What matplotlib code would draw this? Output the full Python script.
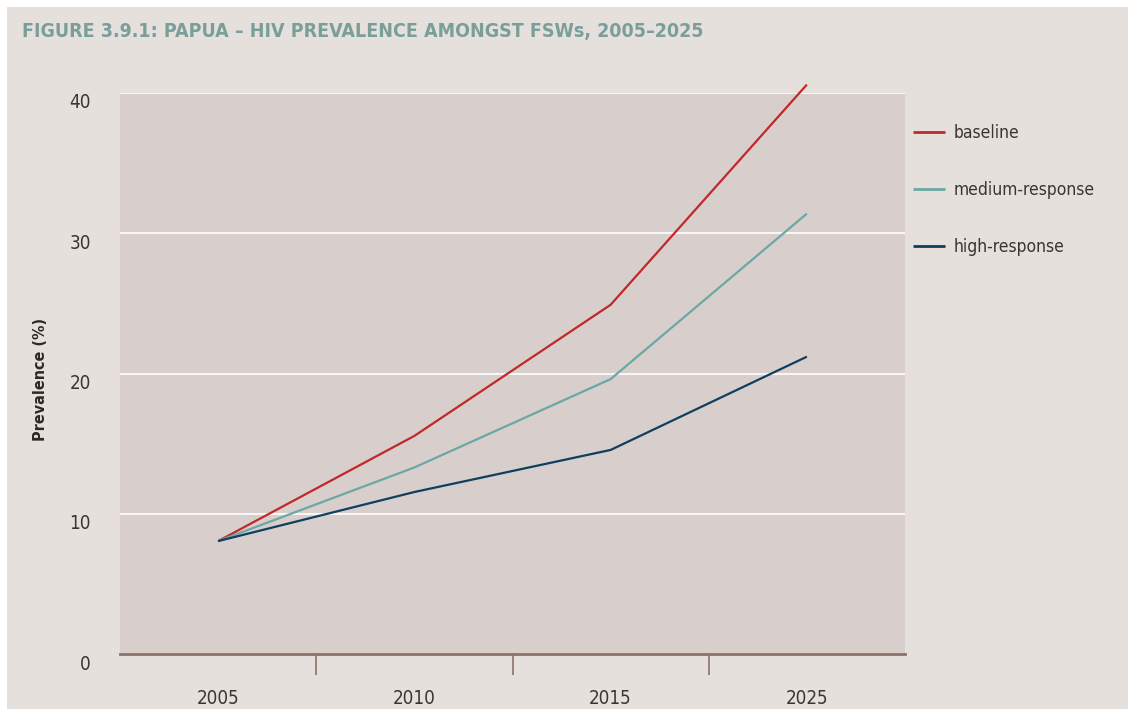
import matplotlib
matplotlib.use("Agg")
import matplotlib.pyplot as plt
import matplotlib.transforms as mtransforms
from matplotlib.patches import Rectangle

# Données : prévalence du VIH chez les TS femmes, Papua
annees = ["2005", "2010", "2015", "2025"]
baseline = [8.05, 15.55, 24.9, 40.6]
medium_response = [8.05, 13.3, 19.6, 31.4]
high_response = [8.05, 11.55, 14.55, 21.2]
graduations_y = [0, 10, 20, 30, 40]

couleurs = {
    "baseline": "#c0282a",
    "medium-response": "#6aa8a5",
    "high-response": "#0f3e5e",
}

plt.rcParams["font.family"] = ["DejaVu Sans Condensed", "DejaVu Sans"]
plt.rcParams["font.stretch"] = "condensed"

fig = plt.figure(figsize=(11.28, 7.11), dpi=100, facecolor="white")

# Fond beige de la figure (petite marge blanche en haut et à gauche)
fig.patches.append(Rectangle((7 / 1128, 2 / 711), 1, (711 - 9) / 711,
                             transform=fig.transFigure, facecolor="#e5e0dc",
                             edgecolor="none", zorder=-10))

ax = fig.add_axes([120 / 1128, 57 / 711, 785 / 1128, 561 / 711])
ax.set_facecolor("#d8cecb")

x = list(range(len(annees)))
series = {
    "baseline": baseline,
    "medium-response": medium_response,
    "high-response": high_response,
}
for nom, valeurs in series.items():
    ax.plot(x, valeurs, color=couleurs[nom], linewidth=1.6, label=nom,
            clip_on=False, zorder=3, solid_capstyle="butt")

ax.set_xlim(-0.5, 3.5)
ax.set_ylim(0, 40)

# Grille horizontale blanche
ax.set_yticks(graduations_y)
ax.yaxis.grid(True, color="white", linewidth=1.2)
ax.set_axisbelow(True)
ax.tick_params(axis="y", length=0, pad=21, labelsize=13.5, labelcolor="#3a3533")
decalage = mtransforms.ScaledTranslation(0, -8 / 100, fig.dpi_scale_trans)
for lab in ax.get_yticklabels():
    lab.set_transform(lab.get_transform() + decalage)

# Axe des x : catégories, graduations entre les catégories
ax.set_xticks(x)
ax.set_xticklabels(annees)
ax.set_xticks([0.5, 1.5, 2.5], minor=True)
ax.tick_params(axis="x", which="major", length=0, pad=25, labelsize=13.5,
               labelcolor="#3a3533")
ax.tick_params(axis="x", which="minor", length=15, width=1.2, color="#8a7269",
               direction="out")

for cote in ["top", "right", "left"]:
    ax.spines[cote].set_visible(False)
ax.spines["bottom"].set_color("#8a7269")
ax.spines["bottom"].set_linewidth(2)

ax.set_ylabel("Prevalence (%)", fontsize=11.5, fontweight="bold",
              color="#2b2826")
ax.yaxis.set_label_coords(-72 / 785, 0.49)

fig.text(22 / 1128, 1 - 32 / 711,
         "FIGURE 3.9.1: PAPUA \u2013 HIV PREVALENCE AMONGST FSWs, 2005\u20132025",
         fontsize=14, fontweight="bold", color="#7a9e9a", va="center",
         ha="left")

leg = ax.legend(loc="upper left", bbox_to_anchor=(0.997, 0.963), frameon=False,
                fontsize=12.5, handlelength=1.84, handletextpad=0.52,
                labelspacing=2.25, borderaxespad=0.2)
for t in leg.get_texts():
    t.set_color("#3a3533")
for ligne in leg.get_lines():
    ligne.set_linewidth(2)

fig.savefig("out.png", dpi=100, facecolor="white")
